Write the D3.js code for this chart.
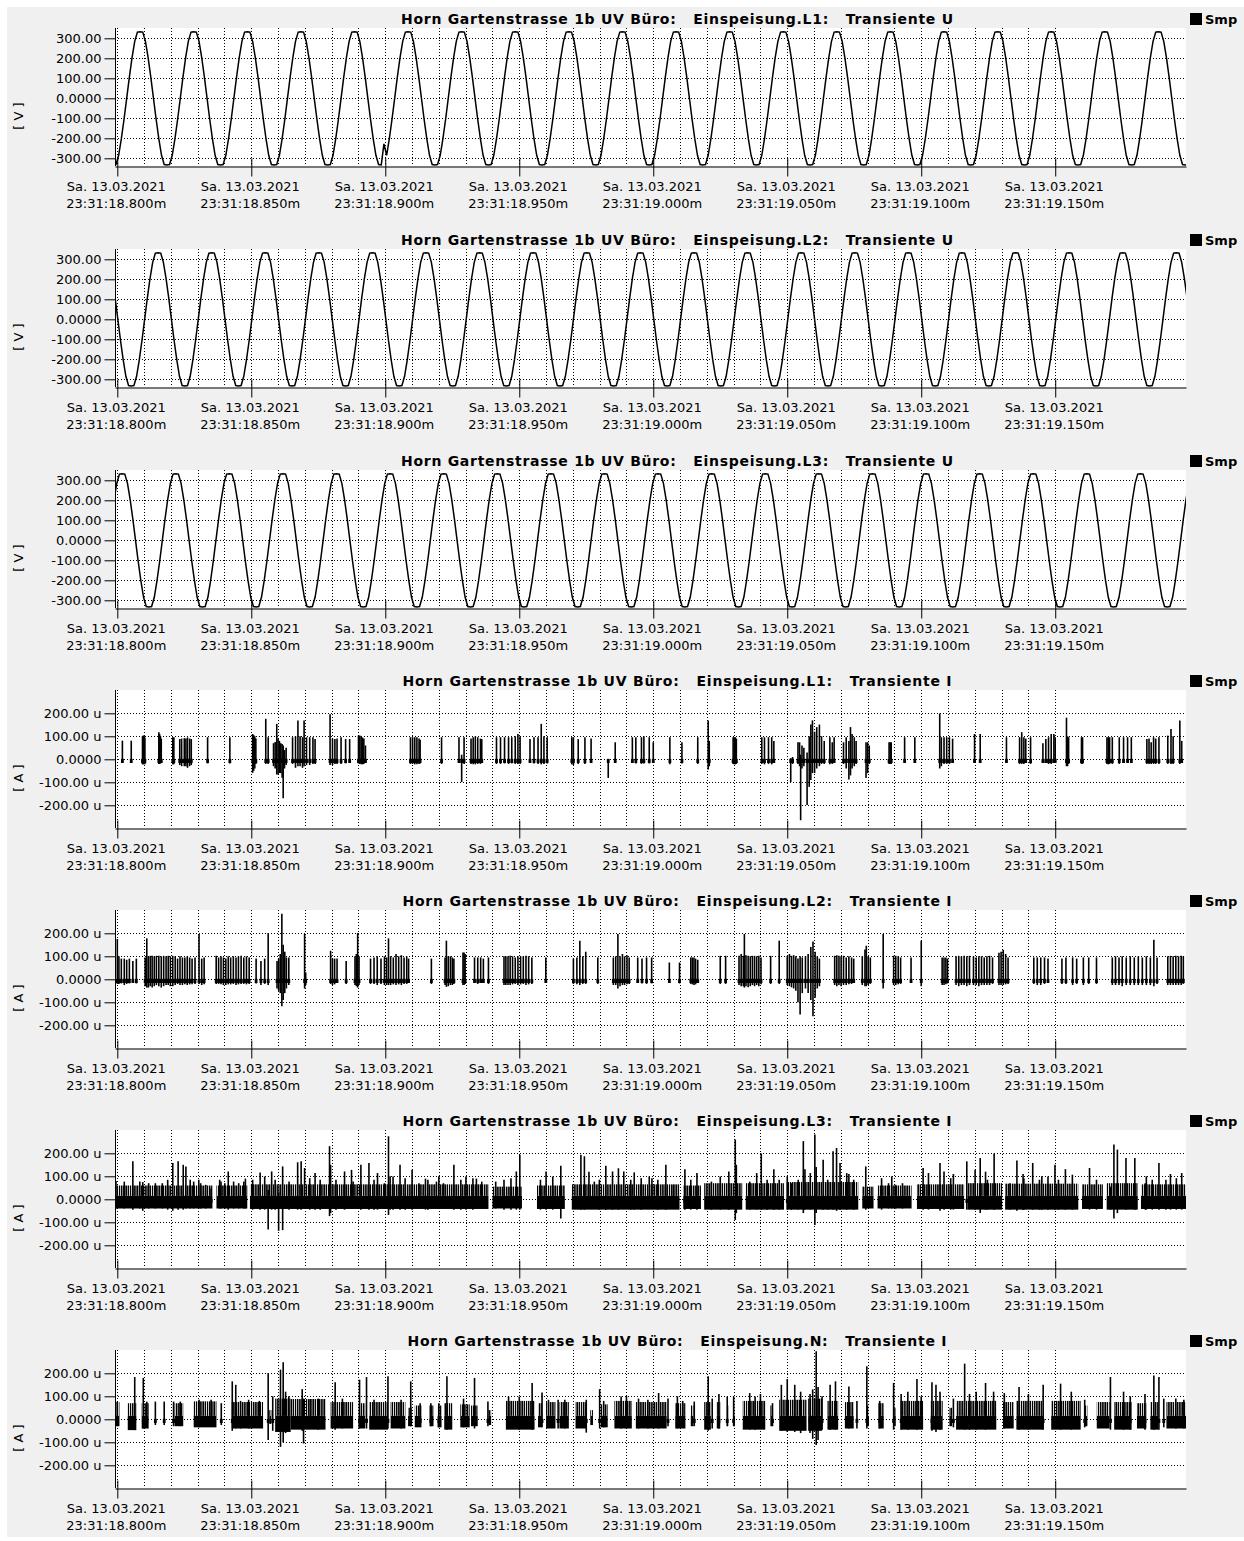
<!DOCTYPE html>
<html><head><meta charset="utf-8">
<script src="https://cdn.jsdelivr.net/npm/d3@7"></script>
<style>body{margin:0;background:#fff} svg{display:block}</style>
</head><body>
<svg id="c" width="1244" height="1541"></svg>
<script>
// ---------------- DATA ----------------
const stationLabel = "Horn Gartenstrasse 1b UV Büro:";
const channelLabels = ["Einspeisung.L1:", "Einspeisung.L2:", "Einspeisung.L3:", "Einspeisung.L1:", "Einspeisung.L2:", "Einspeisung.L3:", "Einspeisung.N:"];
const quantityLabels = ["Transiente U", "Transiente U", "Transiente U", "Transiente I", "Transiente I", "Transiente I", "Transiente I"];
const unitLabels = ["[ V ]", "[ V ]", "[ V ]", "[ A ]", "[ A ]", "[ A ]", "[ A ]"];
const legendLabel = "Smp";

// x axis: milliseconds after 23:31:18.800
const xTickMs = [0, 50, 100, 150, 200, 250, 300, 350];
const xTickDate = ["Sa. 13.03.2021", "Sa. 13.03.2021", "Sa. 13.03.2021", "Sa. 13.03.2021", "Sa. 13.03.2021", "Sa. 13.03.2021", "Sa. 13.03.2021", "Sa. 13.03.2021"];
const xTickTime = ["23:31:18.800m", "23:31:18.850m", "23:31:18.900m", "23:31:18.950m", "23:31:19.000m", "23:31:19.050m", "23:31:19.100m", "23:31:19.150m"];

const voltTicks = [300, 200, 100, 0, -100, -200, -300];
const voltTickLabels = ["300.00", "200.00", "100.00", "0.0000", "-100.00", "-200.00", "-300.00"];
const currTicks = [200, 100, 0, -100, -200];           // micro-ampere
const currTickLabels = ["200.00 u", "100.00 u", "0.0000", "-100.00 u", "-200.00 u"];

// voltage samples, 1 ms apart, starting at voltStartMs[k]
const voltStartMs = [-1.5, -14.8, -8.2];
const voltStepMs = 1;
const voltageL1 = [
-333,-331,-285,-203,-106,0,106,203,285,331,333,331,285,203,106,0,-106,-203,-285,-331,
-333,-331,-285,-203,-106,0,106,203,285,331,333,331,285,203,106,0,-106,-203,-285,-331,
-333,-331,-285,-203,-106,0,106,203,285,331,333,331,285,203,106,0,-106,-203,-285,-331,
-333,-331,-285,-203,-106,0,106,203,285,331,333,331,285,203,106,0,-106,-203,-285,-331,
-333,-331,-285,-203,-106,0,106,203,285,331,333,331,285,203,106,0,-106,-203,-285,-331,
-333,-228,-285,-203,-106,0,106,203,285,331,333,331,285,203,106,0,-106,-203,-285,-331,
-333,-331,-285,-203,-106,0,106,203,285,331,333,331,285,203,106,0,-106,-203,-285,-331,
-333,-331,-285,-203,-106,0,106,203,285,331,333,331,285,203,106,0,-106,-203,-285,-331,
-333,-331,-285,-203,-106,0,106,203,285,331,333,331,285,203,106,0,-106,-203,-285,-331,
-333,-331,-285,-203,-106,0,106,203,285,331,333,331,285,203,106,0,-106,-203,-285,-331,
-333,-331,-285,-203,-106,0,106,203,285,331,333,331,285,203,106,0,-106,-203,-285,-331,
-333,-331,-285,-203,-106,0,106,203,285,331,333,331,285,203,106,0,-106,-203,-285,-331,
-333,-331,-285,-203,-106,0,106,203,285,331,333,331,285,203,106,0,-106,-203,-285,-331,
-333,-331,-285,-203,-106,0,106,203,285,331,333,331,285,203,106,0,-106,-203,-285,-331,
-333,-331,-285,-203,-106,0,106,203,285,331,333,331,285,203,106,0,-106,-203,-285,-331,
-333,-331,-285,-203,-106,0,106,203,285,331,333,331,285,203,106,0,-106,-203,-285,-331,
-333,-331,-285,-203,-106,0,106,203,285,331,333,331,285,203,106,0,-106,-203,-285,-331,
-333,-331,-285,-203,-106,0,106,203,285,331,333,331,285,203,106,0,-106,-203,-285,-331,
-333,-331,-285,-203,-106,0,106,203,285,331,333,331,285,203,106,0,-106,-203,-285,-331,
-333,-331,-285,-203,-106,0,106,203,285,331,333,331,285,203,106,0,-106,-203,-285,-331,
-333,-331,-285,-203,-106,0,106,203,285,331,333,331,285,203,106,0,-106,-203,-285,-331,
-333];
const voltageL2 = [
-333,-331,-285,-203,-106,0,106,203,285,331,333,331,285,203,106,0,-106,-203,-285,-331,
-333,-331,-285,-203,-106,0,106,203,285,331,333,331,285,203,106,0,-106,-203,-285,-331,
-333,-331,-285,-203,-106,0,106,203,285,331,333,331,285,203,106,0,-106,-203,-285,-331,
-333,-331,-285,-203,-106,0,106,203,285,331,333,331,285,203,106,0,-106,-203,-285,-331,
-333,-331,-285,-203,-106,0,106,203,285,331,333,331,285,203,106,0,-106,-203,-285,-331,
-333,-331,-285,-203,-106,0,106,203,285,331,333,331,285,203,106,0,-106,-203,-285,-331,
-333,-331,-285,-203,-106,0,106,203,285,331,333,331,285,203,106,0,-106,-203,-285,-331,
-333,-331,-285,-203,-106,0,106,203,285,331,333,331,285,203,106,0,-106,-203,-285,-331,
-333,-331,-285,-203,-106,0,106,203,285,331,333,331,285,203,106,0,-106,-203,-285,-331,
-333,-331,-285,-203,-106,0,106,203,285,331,333,331,285,203,106,0,-106,-203,-285,-331,
-333,-331,-285,-203,-106,0,106,203,285,331,333,331,285,203,106,0,-106,-203,-285,-331,
-333,-331,-285,-203,-106,0,106,203,285,331,333,331,285,203,106,0,-106,-203,-285,-331,
-333,-331,-285,-203,-106,0,106,203,285,331,333,331,285,203,106,0,-106,-203,-285,-331,
-333,-331,-285,-203,-106,0,106,203,285,331,333,331,285,203,106,0,-106,-203,-285,-331,
-333,-331,-285,-203,-106,0,106,203,285,331,333,331,285,203,106,0,-106,-203,-285,-331,
-333,-331,-285,-203,-106,0,106,203,285,331,333,331,285,203,106,0,-106,-203,-285,-331,
-333,-331,-285,-203,-106,0,106,203,285,331,333,331,285,203,106,0,-106,-203,-285,-331,
-333,-331,-285,-203,-106,0,106,203,285,331,333,331,285,203,106,0,-106,-203,-285,-331,
-333,-331,-285,-203,-106,0,106,203,285,331,333,331,285,203,106,0,-106,-203,-285,-331,
-333,-331,-285,-203,-106,0,106,203,285,331,333,331,285,203,106,0,-106,-203,-285,-331,
-333,-331,-285,-203,-106,0,106,203,285,331,333,331,285,203,106,0,-106,-203,-285,-331,
-333];
const voltageL3 = [
-333,-331,-285,-203,-106,0,106,203,285,331,333,331,285,203,106,0,-106,-203,-285,-331,
-333,-331,-285,-203,-106,0,106,203,285,331,333,331,285,203,106,0,-106,-203,-285,-331,
-333,-331,-285,-203,-106,0,106,203,285,331,333,331,285,203,106,0,-106,-203,-285,-331,
-333,-331,-285,-203,-106,0,106,203,285,331,333,331,285,203,106,0,-106,-203,-285,-331,
-333,-331,-285,-203,-106,0,106,203,285,331,333,331,285,203,106,0,-106,-203,-285,-331,
-333,-331,-285,-203,-106,0,106,203,285,331,333,331,285,203,106,0,-106,-203,-285,-331,
-333,-331,-285,-203,-106,0,106,203,285,331,333,331,285,203,106,0,-106,-203,-285,-331,
-333,-331,-285,-203,-106,0,106,203,285,331,333,331,285,203,106,0,-106,-203,-285,-331,
-333,-331,-285,-203,-106,0,106,203,285,331,333,331,285,203,106,0,-106,-203,-285,-331,
-333,-331,-285,-203,-106,0,106,203,285,331,333,331,285,203,106,0,-106,-203,-285,-331,
-333,-331,-285,-203,-106,0,106,203,285,331,333,331,285,203,106,0,-106,-203,-285,-331,
-333,-331,-285,-203,-106,0,106,203,285,331,333,331,285,203,106,0,-106,-203,-285,-331,
-333,-331,-285,-203,-106,0,106,203,285,331,333,331,285,203,106,0,-106,-203,-285,-331,
-333,-331,-285,-203,-106,0,106,203,285,331,333,331,285,203,106,0,-106,-203,-285,-331,
-333,-331,-285,-203,-106,0,106,203,285,331,333,331,285,203,106,0,-106,-203,-285,-331,
-333,-331,-285,-203,-106,0,106,203,285,331,333,331,285,203,106,0,-106,-203,-285,-331,
-333,-331,-285,-203,-106,0,106,203,285,331,333,331,285,203,106,0,-106,-203,-285,-331,
-333,-331,-285,-203,-106,0,106,203,285,331,333,331,285,203,106,0,-106,-203,-285,-331,
-333,-331,-285,-203,-106,0,106,203,285,331,333,331,285,203,106,0,-106,-203,-285,-331,
-333,-331,-285,-203,-106,0,106,203,285,331,333,331,285,203,106,0,-106,-203,-285,-331,
-333,-331,-285,-203,-106,0,106,203,285,331,333,331,285,203,106,0,-106,-203,-285,-331,
-333];

// current transients: spikes [ms, max uA, min uA]
const spikesIL1 = [
[1.9,81,-12],[5.2,81,-15],[9.4,100,-22],[9.7,103,-22],[10.0,103,-20],[10.3,95,-22],
[15.5,118,-20],[15.8,110,-20],[16.1,100,-18],[16.4,90,-15],[20.7,96,-22],[21.1,96,-22],
[23.3,88,-25],[24.0,90,-30],[25.0,92,-30],[25.6,90,-30],[26.2,95,-37],[27.0,90,-30],[27.6,88,-25],
[33.7,96,-18],[42.0,96,-18],[50.5,110,-59],[50.9,105,-50],[51.3,100,-40],[51.7,90,-20],
[55.4,176,-20],[56.3,96,-20],[58.3,70,-30],[58.9,75,-40],[59.5,154,-66],[60.0,90,-66],[60.5,80,-60],
[61.0,70,-60],[61.5,66,-80],[61.9,60,-169],[62.4,40,-40],[63.0,50,-25],
[65.4,96,-20],[66.5,100,-37],[67.4,169,-30],[68.2,100,-30],[69.1,96,-37],[69.7,169,-30],[70.6,96,-25],
[71.8,96,-25],[73.0,96,-20],[73.8,88,-20],[79.4,196,-25],[80.3,90,-25],[81.2,88,-20],[82.0,90,-20],
[83.5,96,-20],[85.2,88,-18],[86.7,88,-15],[90.0,103,-18],[90.5,103,-20],[91.0,100,-22],[91.5,95,-22],
[92.0,90,-20],[92.6,60,-15],[109.4,96,-20],[110.2,96,-20],[111.0,96,-22],[111.8,96,-22],[112.6,90,-20],
[113.0,85,-18],[121.0,96,-20],[127.5,96,-15],[128.5,20,-99],[129.4,96,-20],[132.0,90,-20],[132.8,96,-22],
[133.6,100,-22],[134.5,96,-20],[135.5,90,-20],[136.0,88,-15],[141.5,96,-20],[143.0,96,-20],[144.5,96,-18],
[146.0,96,-20],[147.2,96,-18],[148.5,100,-20],[149.5,110,-20],[150.3,100,-20],[154.0,88,-15],[155.5,96,-18],
[157.0,96,-20],[158.2,154,-22],[159.2,100,-20],[160.4,96,-18],[169.6,96,-22],[170.2,96,-25],[172.0,88,-20],
[174.5,96,-20],[176.8,90,-15],[183.2,0,-81],[185.8,74,-15],[192.2,96,-15],[193.5,96,-18],[195.6,96,-20],
[196.5,100,-18],[198.5,96,-18],[200.0,74,-15],[206.2,96,-22],[210.7,74,-18],[216.6,96,-20],[220.5,169,-44],
[220.9,80,-30],[229.8,96,-20],[230.2,96,-22],[230.6,96,-22],[231.0,90,-20],[240.5,96,-20],[241.5,96,-22],
[243.0,96,-20],[244.2,96,-22],[245.0,80,-15],[251.3,5,-99],[252.0,10,-20],[254.0,74,-20],[254.6,74,-30],
[255.0,20,-265],[255.5,60,-40],[256.2,50,-30],[257.4,30,-199],[258.2,100,-120],[258.8,151,-90],[259.4,169,-60],
[260.2,120,-60],[261.0,140,-40],[262.0,151,-30],[262.8,100,-20],[263.8,80,-20],[265.9,96,-22],[266.8,74,-20],
[267.5,96,-15],[271.0,74,-20],[272.0,96,-40],[273.0,80,-88],[273.6,140,-70],[274.2,110,-40],[275.0,96,-30],
[275.7,80,-20],[279.4,74,-81],[280.0,74,-60],[280.6,60,-20],[288.0,74,-20],[288.4,74,-20],[288.8,74,-20],
[293.8,96,-15],[297.6,96,-15],[306.9,199,-40],[307.5,96,-30],[308.5,96,-20],[309.5,96,-20],[310.5,96,-20],
[311.7,90,-15],[319.9,110,-15],[322.0,110,-15],[331.8,96,-15],[336.7,96,-20],[337.5,118,-20],[338.3,96,-20],
[339.0,90,-15],[340.8,96,-20],[345.4,70,-15],[346.5,88,-15],[347.5,96,-20],[348.5,110,-20],[349.5,110,-15],
[350.0,96,-15],[354.2,181,-30],[354.6,100,-30],[355.0,96,-20],[359.8,96,-20],[360.2,96,-20],[369.3,96,-20],
[369.8,96,-22],[370.3,96,-20],[371.3,96,-20],[373.9,96,-20],[375.5,96,-15],[377.0,96,-15],[378.4,96,-15],
[384.2,88,-20],[385.0,90,-20],[385.8,74,-20],[386.7,96,-20],[387.5,90,-20],[388.7,96,-20],[392.0,103,-20],
[393.2,132,-20],[394.0,100,-20],[396.5,169,-20],[397.2,80,-15]
];
const spikesIL2 = [
[0.0,175,-20],[0.6,100,-20],[1.5,90,-18],[2.6,90,-25],[3.5,85,-20],[4.5,90,-18],[5.8,80,-15],[7.1,90,-18],
[10.4,95,-30],[11.0,178,-36],[11.6,100,-36],[12.3,102,-30],[13.0,102,-36],[13.8,100,-30],[14.6,102,-25],
[15.5,102,-30],[16.4,100,-36],[17.3,102,-30],[18.2,100,-25],[19.0,102,-25],[19.8,100,-30],[20.7,102,-30],
[21.6,100,-25],[22.5,90,-20],[23.4,100,-25],[24.3,95,-25],[25.2,95,-22],[26.1,100,-25],[27.0,95,-22],
[27.9,90,-22],[29.0,95,-20],[30.5,197,-20],[31.5,90,-25],[32.4,95,-22],[36.9,102,-20],[37.8,95,-20],
[38.7,100,-22],[39.6,95,-25],[40.5,90,-25],[41.4,100,-22],[42.3,95,-22],[43.3,100,-20],[44.3,95,-25],
[45.2,100,-22],[46.2,102,-20],[47.2,95,-20],[48.2,100,-22],[49.2,95,-20],[51.8,90,-18],[53.6,80,-25],
[55.0,90,-20],[56.3,201,-25],[59.6,80,-40],[60.2,90,-50],[60.8,110,-60],[61.4,285,-117],[61.9,150,-90],
[62.5,120,-60],[63.1,95,-40],[64.0,95,-25],[69.9,197,-40],[70.3,30,-25],[79.6,124,-20],[80.3,90,-25],
[81.1,90,-22],[82.0,90,-15],[85.4,80,-20],[88.7,100,-25],[89.2,110,-30],[89.7,201,-36],[90.2,100,-25],
[94.5,90,-20],[95.8,95,-20],[97.0,100,-25],[98.4,90,-20],[99.7,100,-25],[100.5,95,-25],[101.2,178,-25],
[102.0,100,-25],[103.0,95,-22],[104.0,110,-25],[105.0,100,-22],[106.0,105,-25],[107.0,95,-20],[108.0,100,-20],
[108.7,90,-15],[117.2,90,-20],[122.3,95,-25],[122.8,168,-33],[123.5,100,-30],[124.3,100,-25],[125.0,95,-25],
[125.6,90,-20],[129.0,117,-25],[129.4,117,-25],[129.8,110,-20],[133.3,95,-15],[134.5,95,-20],[135.6,95,-15],
[136.6,90,-15],[138.5,95,-20],[144.3,100,-25],[145.0,100,-25],[145.8,100,-25],[146.6,102,-25],[147.5,100,-22],
[148.5,95,-20],[149.5,100,-25],[150.5,100,-22],[151.5,100,-20],[152.5,102,-25],[153.5,100,-22],[154.7,95,-20],
[159.9,95,-15],[170.2,90,-20],[171.5,95,-22],[172.6,168,-25],[173.7,100,-20],[174.8,120,-20],[179.3,95,-20],
[185.1,95,-25],[186.0,100,-25],[186.8,197,-40],[187.6,100,-30],[188.5,110,-25],[189.3,100,-25],[190.2,105,-22],
[191.0,95,-20],[194.2,95,-15],[195.8,90,-18],[197.5,95,-20],[199.4,95,-18],[206.0,73,-15],[209.8,73,-18],
[214.0,95,-20],[214.6,95,-22],[215.2,95,-25],[215.8,90,-22],[216.6,85,-15],[225.0,102,-20],[227.0,102,-20],
[232.0,102,-25],[232.8,110,-30],[233.6,102,-30],[234.0,197,-36],[234.6,105,-30],[235.4,102,-35],[236.2,100,-30],
[237.0,102,-25],[237.8,102,-30],[238.6,100,-25],[239.4,102,-30],[240.2,95,-22],[243.8,102,-20],[247.0,168,-20],
[250.0,102,-25],[250.8,110,-30],[251.6,102,-35],[252.4,105,-40],[253.2,100,-50],[254.0,90,-100],[254.8,100,-153],
[255.6,95,-60],[256.8,100,-40],[257.8,110,-60],[258.8,140,-90],[259.6,164,-161],[260.4,120,-80],[261.2,100,-40],
[262.0,90,-30],[267.7,102,-25],[268.5,105,-30],[269.3,102,-25],[270.1,100,-30],[271.0,102,-25],[272.0,95,-25],
[273.0,100,-22],[274.0,95,-20],[274.8,90,-15],[278.0,100,-25],[279.0,130,-30],[279.5,146,-30],[280.2,100,-25],
[281.0,95,-20],[285.8,197,-40],[289.7,102,-25],[290.5,102,-25],[291.4,100,-22],[292.3,95,-20],[296.2,95,-15],
[300.0,168,-30],[307.8,95,-25],[308.5,95,-25],[309.2,95,-22],[309.8,90,-18],[313.0,100,-25],[314.0,102,-30],
[315.0,100,-25],[316.0,102,-25],[317.0,100,-30],[318.0,102,-25],[319.5,100,-25],[320.5,95,-25],[321.5,100,-30],
[322.5,100,-25],[323.5,95,-25],[324.5,100,-25],[325.5,102,-25],[326.6,95,-20],[329.0,115,-25],[329.8,120,-25],
[330.6,128,-25],[331.5,110,-22],[332.4,95,-20],[342.0,95,-20],[343.3,95,-25],[344.6,95,-25],[346.0,95,-20],
[347.3,90,-15],[352.5,90,-20],[354.0,95,-20],[356.5,95,-25],[358.0,90,-20],[360.5,95,-25],[362.5,95,-20],
[365.4,95,-20],[371.3,95,-25],[372.5,100,-25],[373.8,95,-25],[375.0,100,-30],[376.5,95,-25],[378.0,100,-25],
[379.5,95,-25],[381.0,100,-25],[382.5,95,-25],[384.0,100,-25],[385.5,95,-25],[386.8,172,-30],[388.0,95,-20],
[392.0,100,-25],[393.0,102,-25],[394.0,100,-25],[395.0,102,-25],[396.0,100,-25],[397.0,102,-25],[397.8,100,-20]
];
const spikesIL3 = [
[-0.5,80,-40],[2.6,77,-40],[5.8,165,-45],[8.4,77,-40],[9.5,75,-50],[11.7,70,-40],[14.2,70,-40],[16.8,70,-40],
[18.8,85,-45],[20.7,158,-50],[22.7,165,-45],[24.6,150,-45],[25.6,143,-40],[27.2,85,-40],[28.5,77,-40],
[30.4,85,-40],[31.1,70,-40],[33.0,63,-40],[35.0,48,-35],[38.2,85,-40],[38.7,77,-40],[40.1,70,-40],[41.4,121,-45],
[43.4,77,-40],[45.3,70,-40],[47.2,77,-40],[47.8,90,-40],[50.5,85,-45],[53.3,117,-45],[55.0,99,-45],[56.3,40,-131],
[57.6,121,-45],[58.9,85,-45],[60.2,30,-137],[61.7,143,-134],[64.1,77,-45],[67.3,161,-45],[68.6,165,-45],
[69.9,136,-40],[71.8,92,-45],[73.8,114,-45],[75.7,85,-45],[79.2,231,-73],[79.6,150,-60],[81.6,85,-45],
[84.8,121,-45],[87.4,128,-40],[88.0,77,-40],[90.9,150,-45],[93.9,158,-45],[95.8,85,-45],[97.1,114,-45],
[99.7,70,-40],[101.2,274,-68],[101.8,100,-45],[102.9,99,-45],[105.5,150,-45],[107.4,92,-45],[110.0,128,-45],
[112.6,70,-40],[115.0,90,-45],[115.9,85,-45],[119.1,77,-40],[120.0,100,-40],[121.7,70,-40],[125.6,150,-45],
[128.2,85,-45],[130.1,99,-45],[132.7,92,-45],[134.0,90,-40],[136.0,77,-40],[141.2,77,-40],[144.3,85,-45],
[146.9,92,-45],[148.9,121,-45],[150.2,194,-45],[157.9,85,-45],[160.0,121,-45],[162.5,99,-45],[165.5,146,-83],
[173.0,194,-45],[174.3,187,-45],[176.0,120,-40],[178.0,77,-40],[179.9,85,-45],[182.3,146,-45],[184.8,121,-45],
[187.0,135,-45],[189.0,121,-40],[191.6,85,-45],[192.9,117,-45],[195.5,92,-45],[198.5,99,-40],[199.5,92,-40],
[201.7,85,-45],[204.7,150,-45],[207.5,63,-40],[211.8,131,-45],[214.0,85,-45],[216.3,114,-45],[221.7,77,-45],
[225.0,99,-45],[228.2,121,-45],[230.6,260,-90],[231.0,150,-60],[236.0,77,-45],[238.6,114,-45],[240.3,199,-45],
[242.5,85,-45],[245.0,131,-45],[247.0,85,-45],[250.0,100,-45],[251.5,70,-45],[254.1,85,-45],[256.0,253,-60],
[256.6,131,-45],[258.6,114,-45],[260.3,282,-112],[260.8,140,-60],[263.4,172,-45],[265.1,85,-45],[267.1,209,-45],
[268.4,223,-50],[269.7,158,-45],[272.2,114,-45],[273.0,110,-40],[274.8,85,-45],[279.3,143,-45],[285.2,92,-45],
[287.8,70,-40],[289.0,100,-40],[290.4,63,-40],[293.0,70,-40],[300.7,136,-45],[302.7,114,-45],[307.0,158,-50],
[308.5,121,-45],[311.0,92,-45],[312.0,110,-45],[317.0,165,-45],[320.1,128,-45],[322.0,180,-60],[324.0,120,-45],
[324.7,85,-45],[327.2,199,-45],[333.1,70,-45],[335.7,169,-50],[338.0,110,-45],[338.3,92,-45],[341.6,158,-45],
[344.1,85,-45],[345.0,100,-45],[347.3,99,-45],[349.9,150,-45],[351.2,85,-45],[353.8,131,-45],[356.4,107,-45],
[362.8,136,-45],[365.4,85,-45],[370.6,55,-45],[371.9,238,-83],[373.2,216,-60],[376.4,180,-45],[379.7,180,-45],
[383.6,70,-45],[384.0,100,-45],[386.2,85,-45],[388.7,158,-45],[391.3,85,-45],[393.0,110,-45],[395.2,92,-45],
[397.2,114,-45]
];
const spikesIN = [
[0.0,77,-30],[6.5,184,-47],[9.7,180,-40],[11.0,77,-30],[14.2,77,-25],[17.5,77,-25],[21.0,77,-30],[23.5,77,-30],
[30.5,85,-35],[35.0,85,-30],[38.8,70,-25],[42.9,165,-50],[44.2,150,-40],[46.0,80,-40],[49.0,85,-40],[53.0,80,-35],
[56.3,201,-90],[58.0,100,-50],[60.9,216,-120],[61.9,248,-100],[62.8,120,-60],[64.0,100,-50],[69.0,131,-50],
[69.5,90,-105],[72.0,88,-40],[75.0,90,-45],[81.3,161,-45],[84.0,90,-40],[90.4,172,-40],[93.0,184,-40],
[95.8,85,-40],[101.0,187,-40],[105.9,85,-40],[109.5,165,-30],[113.0,70,-30],[117.0,70,-30],[120.0,70,-35],
[123.0,187,-45],[129.2,90,-35],[133.3,180,-40],[138.3,77,-30],[146.0,99,-40],[150.0,99,-45],[154.8,158,-45],
[158.5,117,-35],[160.9,85,-35],[164.5,85,-40],[167.0,85,-40],[175.0,85,-58],[180.0,131,-40],[181.5,80,-35],
[188.0,99,-40],[190.0,101,-40],[194.5,90,-40],[198.0,85,-40],[202.0,114,-40],[205.5,90,-30],[209.0,100,-40],
[211.0,80,-35],[215.3,77,-30],[220.5,187,-50],[222.0,90,-40],[224.5,110,-40],[227.6,99,-30],[230.0,99,-30],
[236.0,114,-45],[238.0,99,-45],[240.0,110,-40],[244.5,70,-30],[247.8,150,-50],[250.0,175,-55],[252.8,150,-55],
[255.0,120,-60],[258.5,110,-60],[259.5,130,-85],[260.8,296,-112],[261.5,140,-90],[263.0,100,-45],[266.0,150,-45],
[268.0,165,-45],[273.0,143,-40],[276.0,80,-40],[279.7,231,-40],[284.5,80,-40],[289.7,158,-45],[292.5,110,-45],
[295.0,120,-45],[298.4,175,-45],[300.0,100,-40],[304.0,161,-50],[305.5,150,-55],[307.0,120,-45],[312.0,90,-35],
[316.2,242,-45],[318.0,110,-45],[320.5,120,-45],[324.0,158,-45],[327.0,120,-40],[331.0,114,-40],[336.5,140,-45],
[340.0,110,-45],[345.5,150,-45],[352.0,155,-45],[356.0,120,-45],[361.0,85,-35],[370.6,184,-45],[375.5,120,-45],
[378.0,100,-45],[383.5,110,-45],[386.8,190,-45],[388.7,184,-45],[390.5,90,-35],[395.0,90,-40],[398.0,85,-40]
];
// dense sample blocks: [from ms, to ms, upper uA, lower uA]
const bandsIL1 = [];
const bandsIL2 = [];
const bandsIL3 = [
[-1.0,35.5,60,-40],[37.0,48.5,60,-40],[49.5,138.5,65,-42],[140.0,151.0,55,-40],[156.6,167.0,60,-42],
[169.6,209.8,65,-45],[211.2,217.8,60,-42],[219.0,233.2,70,-45],[234.5,248.8,70,-45],[249.8,276.5,75,-45],
[278.0,282.2,55,-40],[283.7,296.4,60,-40],[298.4,316.0,65,-42],[317.3,330.2,70,-45],[331.3,358.6,68,-45],
[360.0,367.8,65,-42],[369.2,380.8,70,-45],[382.0,399.5,65,-42]
];
const bandsIN = [
[-1.0,0.8,75,-30],[3.9,7.1,70,-47],[9.1,11.7,70,-40],[21.4,24.6,70,-30],[28.5,37.0,78,-35],[42.7,54.4,75,-40],
[56.7,57.5,40,-20],[58.9,64.7,90,-55],[64.7,77.7,88,-45],[79.6,88.0,75,-40],[90.0,92.5,70,-40],[94.0,101.0,75,-45],
[102.0,107.5,75,-40],[108.5,110.0,50,-30],[111.0,113.5,60,-35],[116.5,118.0,60,-30],[119.5,121.0,60,-35],
[122.0,125.0,70,-45],[128.0,131.5,65,-35],[132.0,134.5,60,-30],[138.5,139.5,40,-25],[145.0,155.7,80,-45],
[157.0,158.5,70,-35],[160.0,163.5,75,-40],[165.0,168.5,75,-40],[171.0,175.0,75,-40],[176.5,177.5,40,-25],
[180.5,183.0,65,-35],[185.5,192.0,80,-40],[193.5,205.0,75,-40],[208.2,212.0,70,-40],[214.0,215.0,60,-30],
[219.0,221.5,75,-45],[223.7,225.0,75,-40],[227.5,228.0,60,-30],[230.0,230.5,60,-30],[233.4,241.8,80,-45],
[243.7,244.5,60,-30],[247.0,257.2,85,-50],[257.8,263.0,90,-50],[265.0,269.0,80,-45],[271.5,274.8,75,-40],
[279.4,280.5,60,-30],[284.0,286.0,70,-40],[289.5,290.5,50,-30],[292.3,300.7,80,-45],[303.5,308.0,80,-45],
[310.5,311.5,50,-30],[313.0,328.0,80,-45],[330.5,334.5,75,-40],[335.5,345.5,80,-45],[348.5,359.5,80,-45],
[361.0,362.0,60,-30],[365.5,370.3,75,-40],[372.0,378.5,75,-45],[380.5,384.0,70,-40],[385.5,388.5,75,-45],
[391.5,399.5,75,-40]
];

// ---------------- CHART ----------------
const panelOffsets = [0, 221, 442, 662, 882, 1102, 1322];
const titleWidths = [552, 552, 552, 549, 549, 549, 539];
const voltSeries = [voltageL1, voltageL2, voltageL3];
const spikeSeries = [spikesIL1, spikesIL2, spikesIL3, spikesIN];
const bandSeries = [bandsIL1, bandsIL2, bandsIL3, bandsIN];

const FONT = "'DejaVu Sans', Verdana, sans-serif";
const svg = d3.select("#c");
svg.append("rect").attr("x", 7).attr("y", 7).attr("width", 1237).attr("height", 1530).attr("fill", "#f0f0f0");
const defs = svg.append("defs");
const pat = defs.append("pattern").attr("id", "stripes").attr("patternUnits", "userSpaceOnUse")
  .attr("width", 2.2).attr("height", 20);
pat.append("rect").attr("width", 1.5).attr("height", 20).attr("fill", "#000");

const L = 115, R = 1186, T = 28, B = 166;
const x = d3.scaleLinear().domain([-0.86, 398.8]).range([L, R]);
const gridMs = d3.range(0, 351, 10);

panelOffsets.forEach((oy, i) => {
  const isU = i < 3;
  const g = svg.append("g").attr("transform", `translate(0,${oy})`);
  g.append("rect").attr("x", L).attr("y", T).attr("width", R - L).attr("height", B - T).attr("fill", "#fff");
  const y = d3.scaleLinear().domain(isU ? [-338.5, 351.5] : [-298.7, 301.3]).range([B, T]);
  const ticks = isU ? voltTicks : currTicks;
  const tlabels = isU ? voltTickLabels : currTickLabels;

  // grid
  g.append("g").selectAll("line").data(ticks).join("line")
    .attr("x1", L).attr("x2", R).attr("y1", d => Math.round(y(d)) + 0.5).attr("y2", d => Math.round(y(d)) + 0.5)
    .attr("stroke", "#000").attr("stroke-width", 1).attr("stroke-dasharray", "1,2");
  g.append("g").selectAll("line").data(gridMs).join("line")
    .attr("x1", d => Math.round(x(d)) + 0.5).attr("x2", d => Math.round(x(d)) + 0.5).attr("y1", T).attr("y2", B)
    .attr("stroke", "#000").attr("stroke-width", 1).attr("stroke-dasharray", "1,2");

  // data
  const cid = "clip" + i;
  defs.append("clipPath").attr("id", cid).append("rect").attr("x", L).attr("y", T).attr("width", R - L).attr("height", B - T);
  const dg = g.append("g").attr("clip-path", `url(#${cid})`);
  if (isU) {
    const s0 = voltStartMs[i];
    const line = d3.line().x((d, k) => x(s0 + k * voltStepMs)).y(d => y(d));
    dg.append("path").datum(voltSeries[i]).attr("d", line).attr("fill", "none")
      .attr("stroke", "#000").attr("stroke-width", 1.5).attr("stroke-linejoin", "miter");
  } else {
    const bands = bandSeries[i - 3];
    const spikes = spikeSeries[i - 3];
    const mid = 15;
    dg.append("g").selectAll("rect").data(bands).join("rect")
      .attr("x", d => x(d[0])).attr("width", d => x(d[1]) - x(d[0]))
      .attr("y", d => y(Math.min(d[2], mid))).attr("height", d => y(d[3]) - y(Math.min(d[2], mid)))
      .attr("fill", "#000");
    dg.append("g").selectAll("rect").data(bands.filter(d => d[2] > mid)).join("rect")
      .attr("x", d => x(d[0])).attr("width", d => x(d[1]) - x(d[0]))
      .attr("y", d => y(d[2])).attr("height", d => y(mid) - y(d[2]))
      .attr("fill", "url(#stripes)");
    dg.append("g").selectAll("rect").data(spikes).join("rect")
      .attr("x", d => x(d[0]) - 1.4).attr("width", 2.8)
      .attr("y", y(2)).attr("height", y(-16) - y(2)).attr("fill", "#000");
    dg.append("g").selectAll("line").data(spikes).join("line")
      .attr("x1", d => x(d[0])).attr("x2", d => x(d[0]))
      .attr("y1", d => y(d[1])).attr("y2", d => y(d[2]))
      .attr("stroke", "#000").attr("stroke-width", 1.6);
  }

  // y axis
  const ya = g.append("g").attr("transform", `translate(${L + 0.5},0)`)
    .call(d3.axisLeft(y).tickValues(ticks).tickFormat((d, k) => tlabels[k]).tickSizeInner(11).tickSizeOuter(0).tickPadding(3));
  ya.attr("font-family", null).attr("font-size", null);
  ya.select(".domain").attr("stroke", "#000").attr("d", `M0,${T}V${B}`);
  ya.selectAll("line").attr("stroke", "#000");
  ya.selectAll("text").attr("font-family", FONT).attr("font-size", 13).attr("fill", "#000");

  // x axis
  const xa = g.append("g").attr("transform", `translate(0,${B + 0.5})`)
    .call(d3.axisBottom(x).tickValues(xTickMs).tickSizeInner(10).tickSizeOuter(0).tickFormat(""));
  xa.attr("font-family", null).attr("font-size", null);
  xa.select(".domain").attr("stroke", "#000");
  xa.selectAll(".tick line").attr("stroke", "#000").attr("y1", -8).attr("y2", 10);
  xa.selectAll(".tick text").remove();
  xa.selectAll(".tick").each(function (d, k) {
    const t = d3.select(this).append("text").attr("font-family", FONT).attr("font-size", 13)
      .attr("fill", "#000").attr("text-anchor", "middle");
    t.append("tspan").attr("x", -1.5).attr("y", 191 - B - 0.5).text(xTickDate[k]);
    t.append("tspan").attr("x", -1.5).attr("y", 208 - B - 0.5).text(xTickTime[k]);
  });

  // y unit label
  g.append("text").attr("transform", "translate(18,116) rotate(-90)")
    .attr("text-anchor", "middle").attr("dominant-baseline", "central")
    .attr("font-family", FONT).attr("font-size", 13).attr("fill", "#000").text(unitLabels[i]);

  // title
  g.append("text").attr("x", 677).attr("y", 24).attr("text-anchor", "middle")
    .attr("font-family", FONT).attr("font-weight", "bold").attr("font-size", 14).attr("fill", "#000")
    .attr("textLength", titleWidths[i]).attr("lengthAdjust", "spacing")
    .style("white-space", "pre")
    .text(`${stationLabel}   ${channelLabels[i]}   ${quantityLabels[i]}`);

  // legend
  g.append("rect").attr("x", 1190).attr("y", 13).attr("width", 12).attr("height", 12).attr("fill", "#000");
  g.append("text").attr("x", 1205).attr("y", 24).attr("font-family", FONT).attr("font-weight", "bold")
    .attr("font-size", 13).attr("fill", "#000").text(legendLabel);
});
</script>
</body></html>
